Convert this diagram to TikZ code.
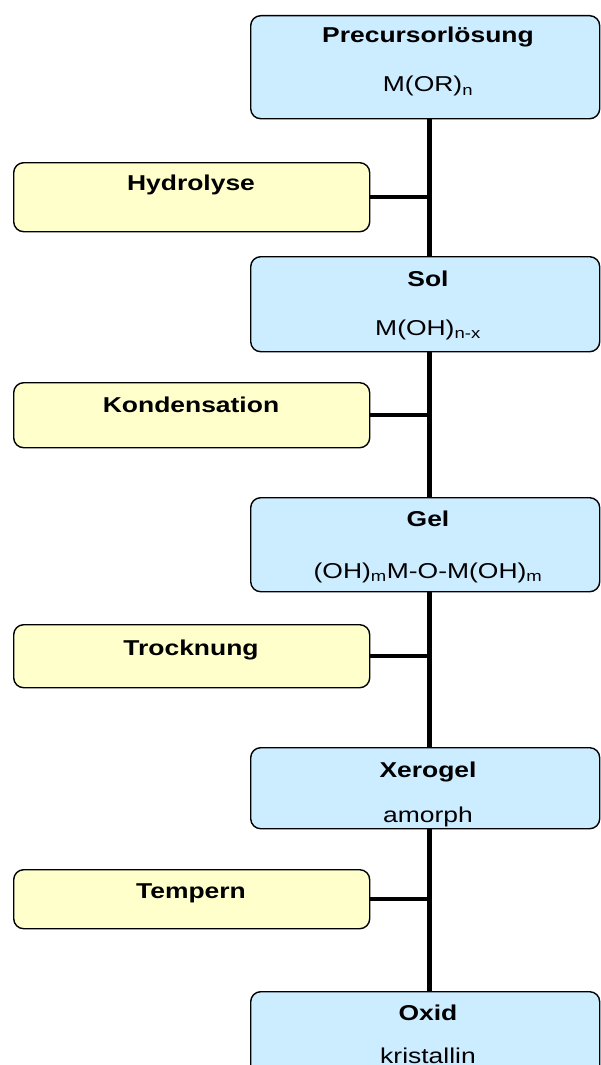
\documentclass[tikz,border=0pt]{standalone}
\usepackage{fontspec}
\setmainfont{Liberation Sans}[FakeStretch=1.23]
\usetikzlibrary{positioning}

\definecolor{stufeblau}{RGB}{204,236,255}
\definecolor{schrittgelb}{RGB}{255,255,204}

\begin{document}
\begin{tikzpicture}[x=1pt,y=-1pt,
    stufe/.style={draw=black, fill=stufeblau, line width=1.4pt,
      rounded corners=10pt, anchor=north west, inner sep=0pt,
      minimum width=349pt},
    schritt/.style={draw=black, fill=schrittgelb, line width=1.4pt,
      rounded corners=10pt, anchor=north west, inner sep=0pt,
      minimum width=356pt},
    titel/.style={anchor=base, inner sep=0pt,
      font=\fontsize{21.5}{24}\selectfont\bfseries},
    formel/.style={anchor=base, inner sep=0pt,
      font=\fontsize{21.5}{24}\selectfont},
    saeule/.style={line width=5pt},
    ast/.style={line width=4.5pt}]
  \useasboundingbox (0,0) rectangle (600,1065);

  % Stufen
  \node[stufe, minimum height=103pt] (pre) at (250,15) {};
  \node[stufe, minimum height=95pt]  (sol) at (250,256) {};
  \node[stufe, minimum height=94pt]  (gel) at (250,497) {};
  \node[stufe, minimum height=81pt]  (xer) at (250,747) {};
  \node[stufe, minimum height=100pt] (oxi) at (250,991) {};

  \node[titel]  (preT) at (428,43)  {Precursorlösung};
  \node[formel] (preF) at (428,92)  {M(OR)\textsubscript{n}};
  \node[titel]  (solT) at (428,286) {Sol};
  \node[formel] (solF) at (428,335) {M(OH)\textsubscript{n-x}};
  \node[titel]  (gelT) at (428,526) {Gel};
  \node[formel] (gelF) at (428,578)
    {(OH)\textsubscript{m}M-O-M(OH)\textsubscript{m}};
  \node[titel]  (xerT) at (428,777) {Xerogel};
  \node[formel] (xerF) at (428,822) {amorph};
  \node[titel]  (oxiT) at (428,1020) {Oxid};
  \node[formel] (oxiF) at (428,1063) {kristallin};

  % Schritte
  \node[schritt, minimum height=69pt] (hyd) at (13,162) {};
  \node[schritt, minimum height=65pt] (kon) at (13,382) {};
  \node[schritt, minimum height=63pt] (tro) at (13,624) {};
  \node[schritt, minimum height=59pt] (tem) at (13,869) {};

  \node[titel] (hydT) at (191,190) {Hydrolyse};
  \node[titel] (konT) at (191,412) {Kondensation};
  \node[titel] (troT) at (191,655) {Trocknung};
  \node[titel] (temT) at (191,898) {Tempern};

  % Achse
  \coordinate (achse) at (429,0);
  \draw[saeule] (pre.south -| achse) -- (sol.north -| achse);
  \draw[saeule] (sol.south -| achse) -- (gel.north -| achse);
  \draw[saeule] (gel.south -| achse) -- (xer.north -| achse);
  \draw[saeule] (xer.south -| achse) -- (oxi.north -| achse);

  \draw[ast] (hyd.east) -- (hyd.east -| achse);
  \draw[ast] (kon.east) -- (kon.east -| achse);
  \draw[ast] (tro.east) -- (tro.east -| achse);
  \draw[ast] (tem.east) -- (tem.east -| achse);
\end{tikzpicture}
\end{document}
